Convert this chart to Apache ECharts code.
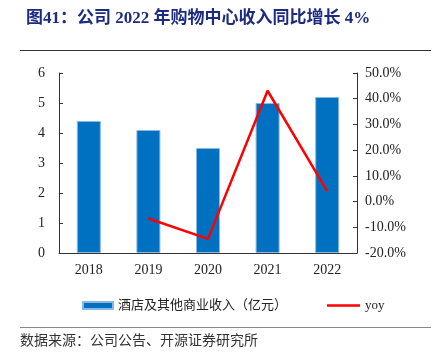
<!DOCTYPE html>
<html>
<head>
<meta charset="utf-8">
<script src="https://cdn.jsdelivr.net/npm/echarts@6/dist/echarts.min.js"></script>
<style>
  html, body { margin: 0; padding: 0; background: #fff; }
  #chart { width: 437px; height: 353px; }
</style>
</head>
<body>
<div id="chart"></div>
<script>
const years = ['2018', '2019', '2020', '2021', '2022']
const revenue = [4.4, 4.1, 3.5, 5.0, 5.2]
const yoy = [null, -6.6, -14.5, 43.1, 4.1]

const serif = '"Liberation Serif", "Noto Sans CJK SC", serif'
const axisColor = '#333'
const legendText = { fontFamily: serif, fontSize: 13, color: '#222' }

const chart = echarts.init(document.getElementById('chart'))
chart.setOption({
  animation: false,
  title: {
    text: '图41：公司 2022 年购物中心收入同比增长 4%',
    left: 21,
    top: 5,
    textStyle: { fontFamily: serif, fontSize: 17, fontWeight: 'bold', color: '#1c2a80' }
  },
  graphic: [
    { type: 'line', shape: { x1: 20, y1: 50.5, x2: 431, y2: 50.5 }, style: { stroke: '#333', lineWidth: 1 } },
    { type: 'line', shape: { x1: 20, y1: 327.5, x2: 431, y2: 327.5 }, style: { stroke: '#888', lineWidth: 1 } },
    {
      type: 'text', left: 20, top: 333,
      style: { text: '数据来源：公司公告、开源证券研究所', font: '14px "Noto Sans CJK SC"', fill: '#333' }
    }
  ],
  legend: [
    {
      left: 77, top: 294,
      itemWidth: 30, itemHeight: 7,
      textStyle: legendText,
      data: [{ name: '酒店及其他商业收入（亿元）', icon: 'rect' }]
    },
    {
      left: 322, top: 294,
      itemWidth: 33, itemHeight: 2.5,
      itemGap: 2,
      textStyle: legendText,
      data: [{ name: 'yoy', icon: 'rect' }]
    }
  ],
  grid: { left: 59, right: 80, top: 73, bottom: 100 },
  xAxis: {
    type: 'category',
    data: years,
    axisLine: { lineStyle: { color: axisColor } },
    axisTick: { inside: true, length: 4, lineStyle: { color: axisColor } },
    axisLabel: { fontFamily: serif, fontSize: 14, color: '#222', margin: 10 }
  },
  yAxis: [
    {
      type: 'value', min: 0, max: 6, interval: 1,
      splitLine: { show: false },
      axisLine: { show: true, lineStyle: { color: axisColor } },
      axisTick: { show: true, inside: true, length: 4, lineStyle: { color: axisColor } },
      axisLabel: { fontFamily: serif, fontSize: 14, color: '#222', margin: 14 }
    },
    {
      type: 'value', min: -20, max: 50, interval: 10,
      splitLine: { show: false },
      axisLine: { show: true, lineStyle: { color: axisColor } },
      axisTick: { show: true, inside: true, length: 4, lineStyle: { color: axisColor } },
      axisLabel: {
        fontFamily: serif, fontSize: 14, color: '#222', margin: 8,
        formatter: v => v.toFixed(1) + '%'
      }
    }
  ],
  series: [
    {
      name: '酒店及其他商业收入（亿元）',
      type: 'bar',
      data: revenue,
      barWidth: 24,
      itemStyle: { color: '#0070c0', borderColor: '#8ab8e2', borderWidth: 1 }
    },
    {
      name: 'yoy',
      type: 'line',
      yAxisIndex: 1,
      data: yoy,
      symbol: 'none',
      lineStyle: { color: '#ff0000', width: 2.5 },
      itemStyle: { color: '#ff0000' }
    }
  ]
})
</script>
</body>
</html>
